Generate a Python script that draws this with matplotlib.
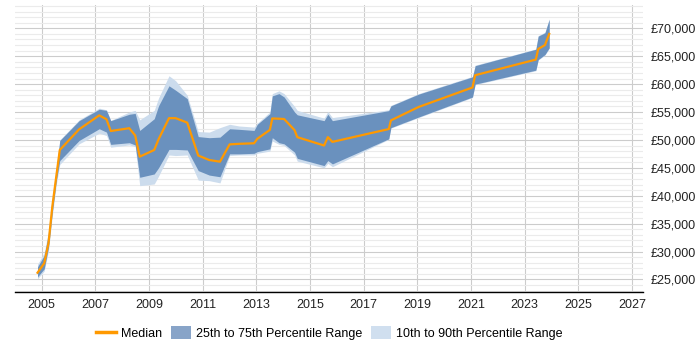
import matplotlib
matplotlib.use("Agg")
import matplotlib.pyplot as plt
from matplotlib.patches import Patch
from matplotlib.lines import Line2D
from matplotlib.ticker import MultipleLocator, FuncFormatter

plt.rcParams['font.family'] = ['Liberation Sans', 'DejaVu Sans']

# dates as decimal years
years = [2004.85, 2005.10, 2005.26, 2005.40, 2005.55, 2005.68, 2006.40, 2007.15, 2007.42, 2007.58,
         2008.27, 2008.49, 2008.66, 2009.20, 2009.36, 2009.75, 2010.00, 2010.43, 2010.84, 2011.25,
         2011.65, 2012.01, 2012.36, 2012.92, 2013.04, 2013.51, 2013.60, 2013.85, 2014.04, 2014.43,
         2014.53, 2015.53, 2015.67, 2015.84, 2017.94, 2018.02, 2019.05, 2021.06, 2021.16, 2023.42,
         2023.51, 2023.76, 2023.92]

median = [26200, 27900, 31500, 38000, 43500, 48200, 51900, 54400, 53700, 51600,
          52100, 50800, 47000, 48200, 50100, 53900, 53900, 53100, 47200, 46400,
          46100, 49200, 49300, 49400, 50200, 51800, 53850, 53800, 53750, 51750,
          50500, 49000, 50500, 49650, 51950, 53500, 55900, 59400, 61600, 64400,
          66300, 67000, 69000]

p75 = [27250, 29300, 33200, 39000, 44500, 49900, 53450, 55500, 55300, 53450,
       54600, 54750, 51700, 53800, 56100, 59700, 58900, 57400, 50600, 50400,
       50500, 52000, 51900, 51700, 52800, 54700, 57900, 58300, 57700, 55000,
       54500, 53450, 54600, 53450, 55250, 56100, 58200, 61300, 63300, 66250,
       68600, 69200, 71600]

p25 = [25450, 26900, 30800, 37000, 42700, 46300, 49900, 52000, 51400, 49200,
       49500, 49100, 43300, 43900, 45000, 48300, 48300, 48200, 44500, 43700,
       43400, 47500, 47500, 47600, 47900, 48400, 50400, 49500, 49300, 47800,
       46700, 45400, 46300, 45700, 50200, 52200, 54100, 57700, 60000, 62500,
       64400, 65300, 66500]

p90 = [27700, 29800, 33700, 39600, 45000, 50000, 53600, 55700, 55400, 53500,
       55000, 55300, 53600, 55300, 57500, 61500, 60600, 58000, 51500, 51400,
       52200, 52800, 52500, 52300, 53000, 55000, 58300, 58800, 58300, 56000,
       55300, 53900, 55100, 54000, 55400, 56200, 58300, 61400, 63400, 66300,
       68700, 69300, 71700]

p10 = [25100, 26500, 30200, 36300, 42000, 45600, 49300, 51200, 50800, 48700,
       49100, 48800, 41800, 42100, 43500, 47300, 47200, 47300, 42800, 42700,
       42300, 47200, 47300, 47300, 47600, 48000, 49800, 49200, 49000, 47300,
       46200, 45000, 45800, 45200, 50100, 52100, 54000, 57600, 59900, 62400,
       64300, 65200, 66400]

year_ticks = list(range(2005, 2028, 2))

ORANGE = '#FF9900'
DARK = '#6A91BE'
LIGHT = '#CCDCED'

fig = plt.figure(figsize=(7, 3.5), dpi=100)
ax = fig.add_axes([0.021, 0.165, 0.897, 0.821])

ax.fill_between(years, p10, p90, color=LIGHT, lw=0, zorder=2)
ax.fill_between(years, p25, p75, color=DARK, lw=0, zorder=3)
ax.plot(years, median, color=ORANGE, lw=1.6, zorder=4)

ax.set_xlim(2004.0, 2027.4)
ax.set_ylim(22700, 74200)
ax.set_xticks(year_ticks)
ax.yaxis.set_major_locator(MultipleLocator(5000))
ax.yaxis.set_minor_locator(MultipleLocator(1000))
ax.yaxis.set_major_formatter(FuncFormatter(lambda v, p: '£{:,.0f}'.format(v)))
ax.yaxis.tick_right()

ax.grid(axis='x', color='#cccccc', lw=0.8, zorder=0)
ax.grid(axis='y', which='major', color='#cccccc', lw=0.8, zorder=0)
ax.grid(axis='y', which='minor', color='#ebebeb', lw=0.8, zorder=0)
ax.set_axisbelow(True)

for s in ['top', 'left', 'right']:
    ax.spines[s].set_visible(False)
ax.spines['bottom'].set_color('black')
ax.spines['bottom'].set_linewidth(1)

ax.tick_params(axis='x', length=0, pad=5, labelsize=9, colors='#222222')
ax.tick_params(axis='y', which='both', length=0, pad=6, labelsize=9, colors='#222222')

handles = [Line2D([], [], color=ORANGE, lw=2.5),
           Patch(facecolor='#88A4C8', edgecolor='none'),
           Patch(facecolor='#D0DFEF', edgecolor='none')]
labels = ['Median', '25th to 75th Percentile Range', '10th to 90th Percentile Range']
fig.legend(handles, labels, loc='center', bbox_to_anchor=(0.47, 0.048), ncol=3, frameon=False,
           fontsize=9, handlelength=1.6, handleheight=1.2, columnspacing=0.7, handletextpad=0.4)

fig.savefig('out.png', dpi=100)
